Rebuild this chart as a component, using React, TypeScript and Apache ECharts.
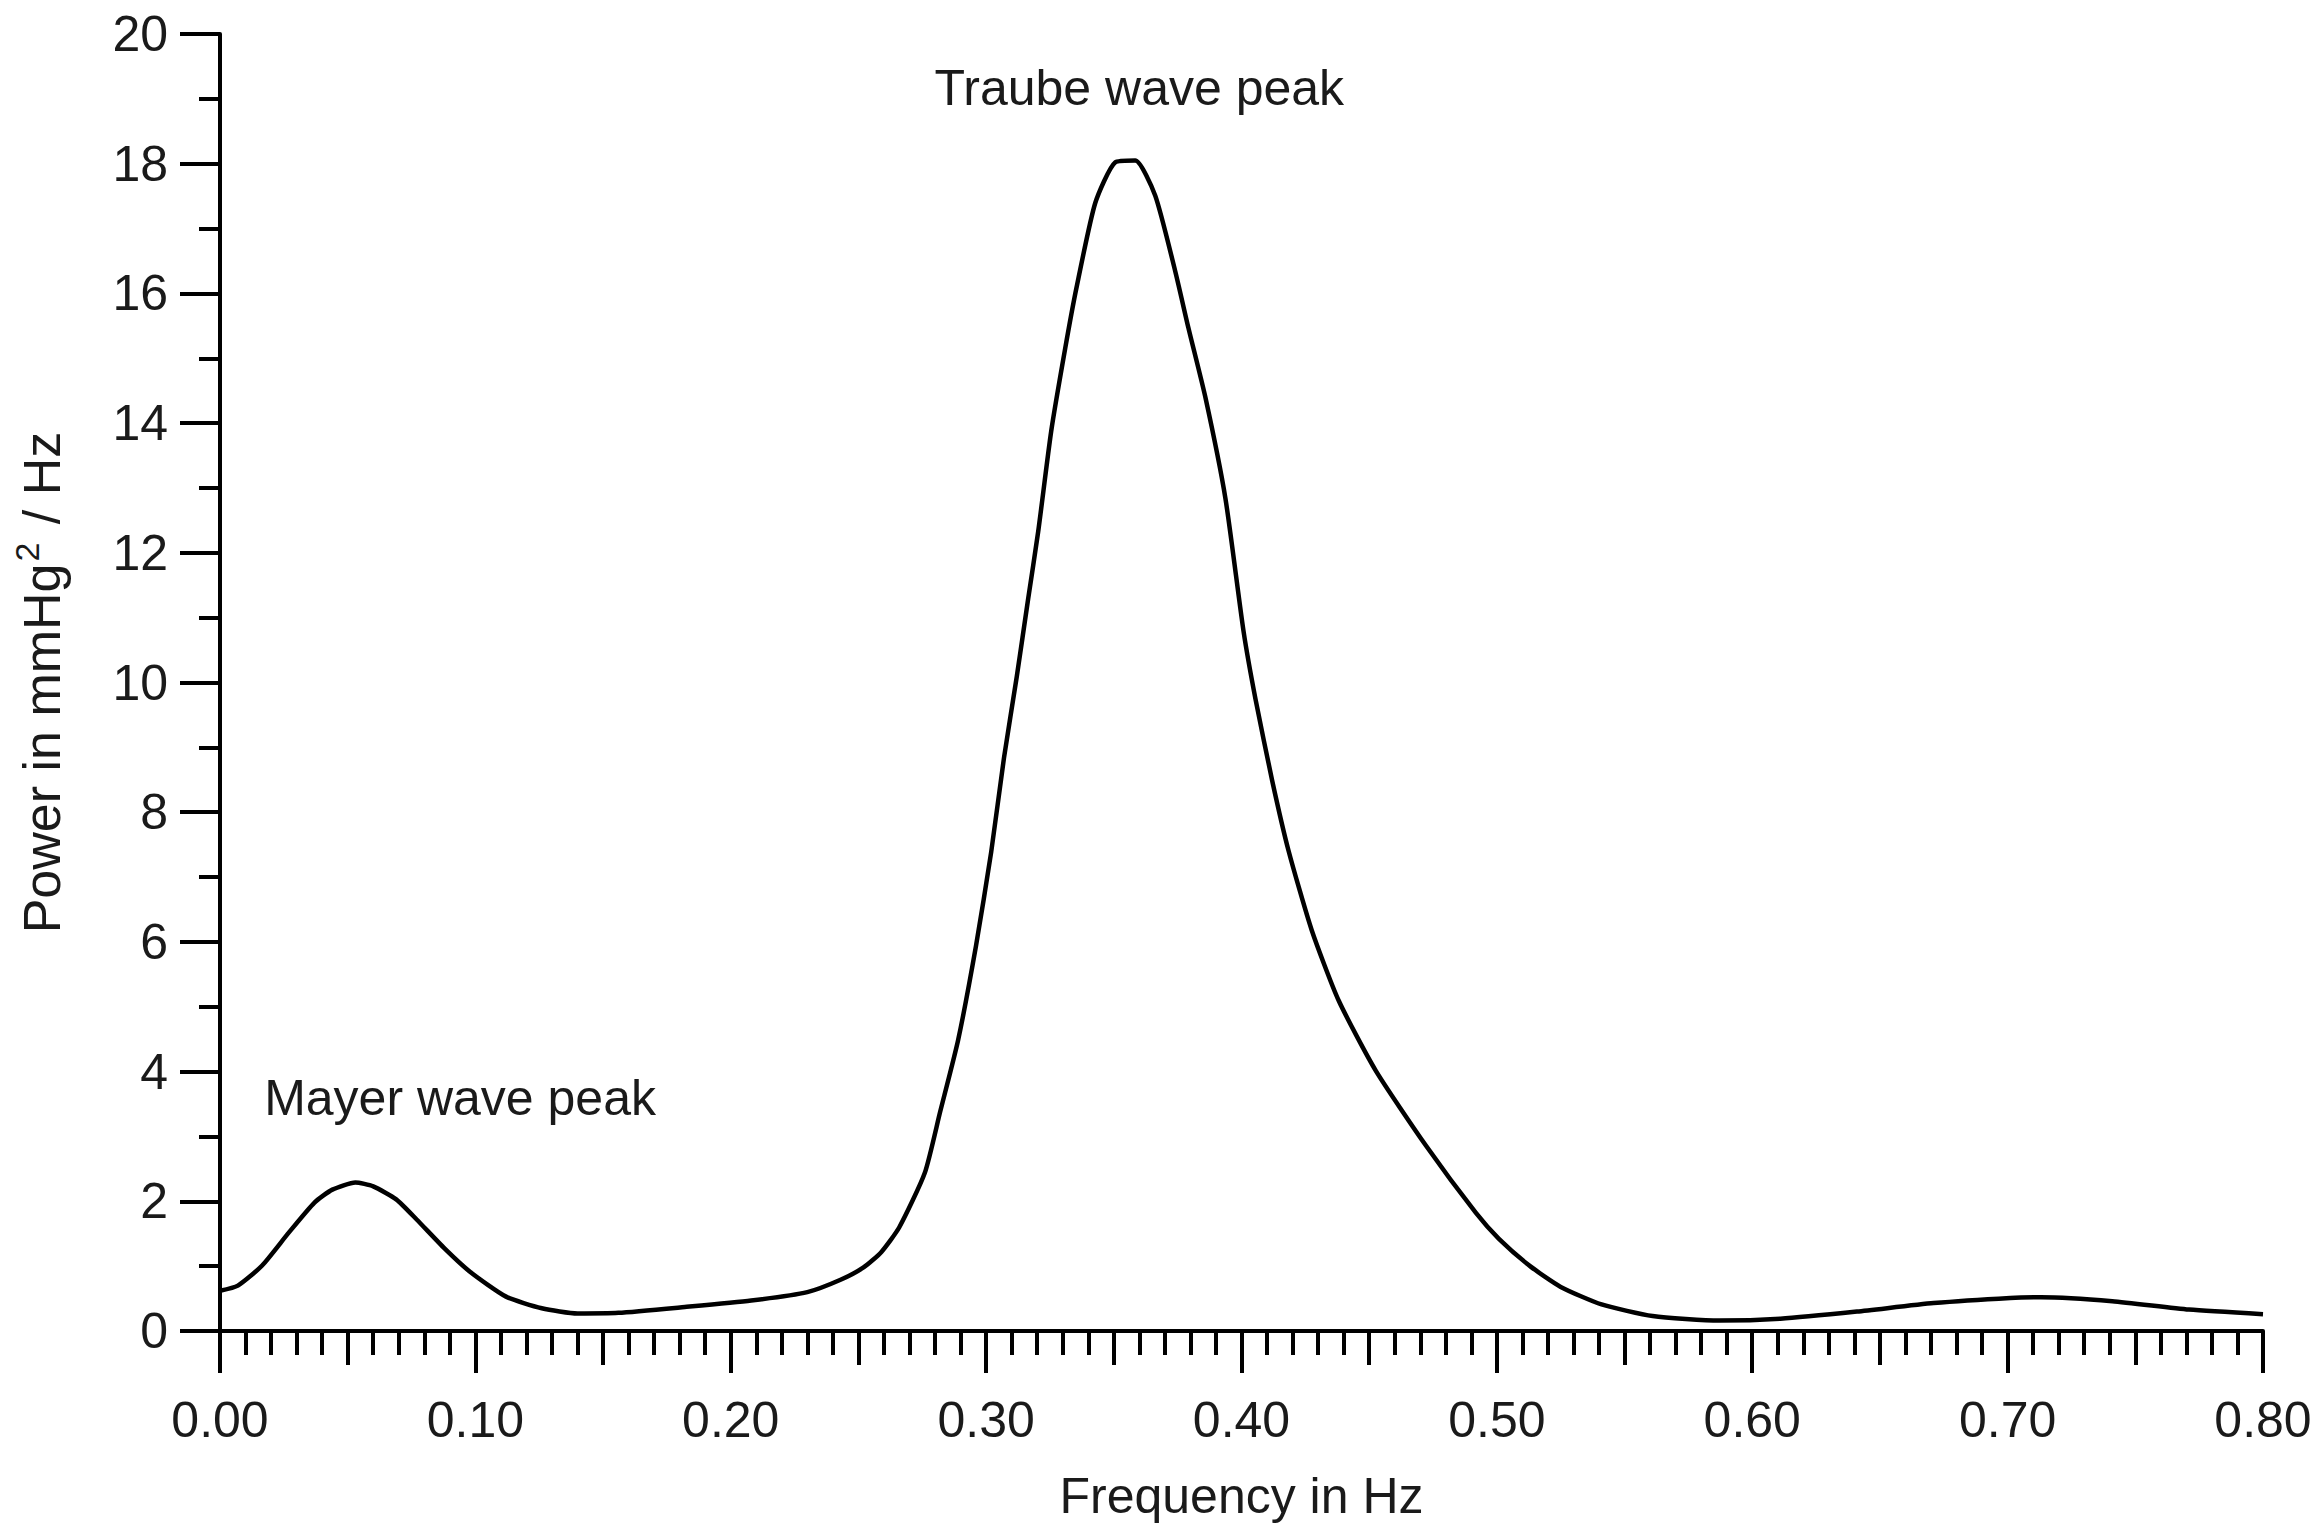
import React, { useEffect, useRef } from "react";
import * as echarts from "echarts";

// Blood-pressure power spectrum: frequency (Hz) and spectral power (mmHg²/Hz)
const FREQ = [
  0.0, 0.007, 0.0165, 0.027, 0.037, 0.044, 0.053, 0.06, 0.069, 0.077, 0.088,
  0.098, 0.112, 0.126, 0.14, 0.156, 0.182, 0.208, 0.23, 0.243, 0.252, 0.259,
  0.266, 0.276, 0.282, 0.289, 0.296, 0.302, 0.307, 0.312, 0.3165, 0.3204,
  0.3255, 0.331, 0.3354, 0.3427, 0.3505, 0.3584, 0.3662, 0.374, 0.3792,
  0.3859, 0.3937, 0.4008, 0.4055, 0.412, 0.4184, 0.4275, 0.438, 0.4525,
  0.4722, 0.4918, 0.5008, 0.513, 0.525, 0.541, 0.561, 0.587, 0.611, 0.641,
  0.671, 0.701, 0.713, 0.741, 0.771, 0.8,
];
const POWER = [
  0.62, 0.7, 1.01, 1.52, 1.98, 2.18, 2.29, 2.23, 2.03, 1.72, 1.27, 0.91, 0.53,
  0.35, 0.27, 0.28, 0.37, 0.47, 0.6, 0.79, 0.98, 1.22, 1.6, 2.44, 3.38, 4.48,
  5.93, 7.39, 8.84, 10.09, 11.3, 12.33, 13.88, 15.16, 16.09, 17.39, 18.02,
  18.05, 17.51, 16.35, 15.47, 14.39, 12.84, 10.79, 9.74, 8.49, 7.41, 6.18,
  5.1, 4.02, 2.86, 1.82, 1.42, 1.0, 0.68, 0.41, 0.23, 0.16, 0.19, 0.3, 0.43,
  0.51, 0.52, 0.46, 0.33, 0.26,
];

// Peak annotations: text, frequency, power
const PEAK_NAMES = ["Traube wave peak", "Mayer wave peak"];
const PEAK_FREQ = [0.36, 0.094];
const PEAK_POWER = [19.17, 3.59];

// Axis ranges and tick steps
const X_MIN = 0;
const X_MAX = 0.8;
const X_MAJOR = 0.1;
const X_MID = 0.05;
const Y_MIN = 0;
const Y_MAX = 20;
const Y_MAJOR = 2;

const FONT = "'Liberation Sans', Arial, Helvetica, sans-serif";
const INK = "#1a1a1a";
const AXIS_W = 4;
const CURVE_W = 4.5;

export default function App() {
  const ref = useRef<HTMLDivElement>(null);

  useEffect(() => {
    if (!ref.current) return;
    const chart = echarts.init(ref.current, undefined, { renderer: "svg" });

    const data = FREQ.map((f, i) => [f, POWER[i]]);
    const labelText = { fontFamily: FONT, fontSize: 50, color: INK };
    const tickLine = { color: "#000", width: AXIS_W };

    chart.setOption({
      animation: false,
      backgroundColor: "#ffffff",
      grid: { left: 220, right: 57, top: 34, bottom: 200, containLabel: false },
      xAxis: [
        {
          type: "value",
          min: X_MIN,
          max: X_MAX,
          interval: X_MAJOR,
          position: "bottom",
          name: "Frequency in Hz",
          nameLocation: "middle",
          nameGap: 140,
          nameTextStyle: labelText,
          axisLine: { show: true, lineStyle: tickLine },
          axisTick: { show: true, inside: false, length: 42, lineStyle: tickLine },
          minorTick: { show: true, splitNumber: 10, length: 24, lineStyle: tickLine },
          axisLabel: {
            ...labelText,
            margin: 64,
            formatter: (v: number) => v.toFixed(2),
          },
          splitLine: { show: false },
          minorSplitLine: { show: false },
        },
        {
          type: "value",
          min: X_MIN,
          max: X_MAX,
          interval: X_MID,
          position: "bottom",
          axisLine: { show: false },
          axisTick: { show: true, inside: false, length: 34, lineStyle: tickLine },
          axisLabel: { show: false },
          splitLine: { show: false },
        },
      ],
      yAxis: {
        type: "value",
        min: Y_MIN,
        max: Y_MAX,
        interval: Y_MAJOR,
        name: "Power in mmHg{sup|2} / Hz",
        nameLocation: "middle",
        nameGap: 146,
        nameTextStyle: {
          ...labelText,
          fontSize: 52,
          rich: {
            sup: {
              fontFamily: FONT,
              fontSize: 34,
              color: INK,
              verticalAlign: "top",
              padding: [0, 4, 30, 2],
            },
          },
        },
        axisLine: { show: true, lineStyle: tickLine },
        axisTick: { show: true, inside: false, length: 40, lineStyle: tickLine },
        minorTick: { show: true, splitNumber: 2, length: 21, lineStyle: tickLine },
        axisLabel: { ...labelText, margin: 52 },
        splitLine: { show: false },
        minorSplitLine: { show: false },
      },
      series: [
        {
          type: "line",
          xAxisIndex: 0,
          data,
          showSymbol: false,
          symbol: "none",
          smooth: 0.2,
          lineStyle: { color: "#000", width: CURVE_W, join: "round" },
          markPoint: {
            symbol: "circle",
            symbolSize: 0,
            silent: true,
            label: {
              show: true,
              position: "inside",
              formatter: "{b}",
              ...labelText,
            },
            data: PEAK_NAMES.map((name, i) => ({
              name,
              coord: [PEAK_FREQ[i], PEAK_POWER[i]],
            })),
          },
        },
      ],
    });

    return () => chart.dispose();
  }, []);

  return (
    <div
      ref={ref}
      style={{ position: "fixed", left: 0, top: 0, width: 2320, height: 1531, background: "#fff" }}
    />
  );
}
